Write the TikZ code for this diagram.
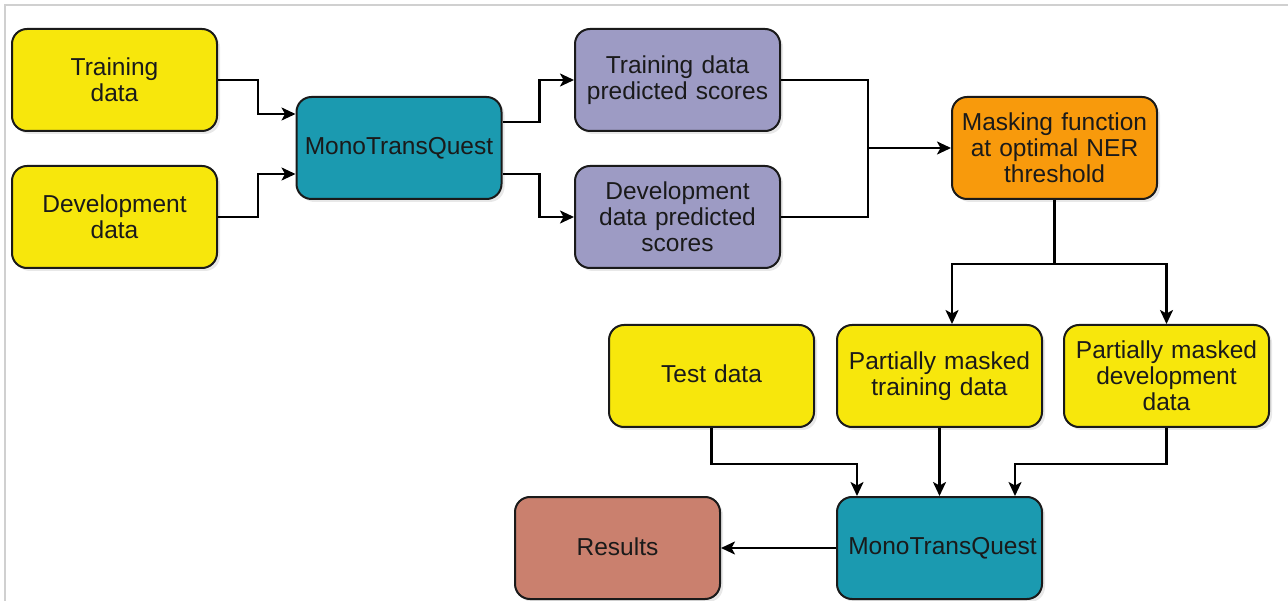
\documentclass[tikz,border=0pt]{standalone}
\usepackage{fontspec}
\setmainfont{Liberation Sans}
\usetikzlibrary{arrows.meta,shadows}
\definecolor{cyellow}{RGB}{247,231,12}
\definecolor{cteal}{RGB}{27,154,176}
\definecolor{clav}{RGB}{157,155,196}
\definecolor{corange}{RGB}{248,154,12}
\definecolor{cres}{RGB}{202,128,110}
\definecolor{cline}{RGB}{26,26,26}
\definecolor{cframe}{RGB}{208,208,208}
\begin{document}
\begin{tikzpicture}[x=1pt,y=-1pt,
  box/.style={draw=cline, line width=2pt, rounded corners=15pt,
    minimum width=205pt, minimum height=102pt, text width=199pt, inner sep=3pt,
    align=center, text=cline, font=\fontsize{24.5}{26}\selectfont,
    drop shadow={opacity=0.18, shadow xshift=3pt, shadow yshift=-3pt}},
  ybox/.style={box, fill=cyellow},
  tbox/.style={box, fill=cteal},
  lbox/.style={box, fill=clav},
  obox/.style={box, fill=corange},
  rbox/.style={box, fill=cres},
  conn/.style={draw=black, line width=2.2pt},
  arr/.style={conn, -{Stealth[length=14pt,width=13pt,inset=3.5pt]}}]
\useasboundingbox (0,0) rectangle (1288,601);
\fill[white] (0,0) rectangle (1288,601);
\draw[cframe, line width=2pt] (4.5,601) -- (4.5,5.5) -- (1288,5.5);

\node[ybox] (train) at (114.5,80) {Training\\data};
\node[ybox] (dev) at (114.5,217) {Development\\data};
\node[tbox] (mtq1) at (399,148) {MonoTransQuest};
\node[lbox] (tps) at (677.5,80) {Training data\\predicted scores};
\node[lbox] (dps) at (677.5,217) {Development\\data predicted\\scores};
\node[obox] (mask) at (1054.5,148) {Masking function\\at optimal NER\\threshold};
\node[ybox] (test) at (711.5,376) {\raisebox{4pt}{Test data}};
\node[ybox] (pmt) at (939.5,376) {Partially masked\\training data};
\node[ybox] (pmd) at (1166.5,376) {Partially masked\\development\\data};
\node[rbox] (results) at (617.5,548) {\raisebox{3pt}{Results}};
\node[tbox] (mtq2) at (939.5,548) {\hspace*{6pt}MonoTransQuest};

\draw[arr] (train.east) -- ++(40,0) |- ([yshift=34pt]mtq1.west);
\draw[arr] (dev.east) -- ++(40,0) |- ([yshift=-26pt]mtq1.west);
\draw[arr] ([yshift=26pt]mtq1.east) -- ++(37,0) |- (tps.west);
\draw[arr] ([yshift=-26pt]mtq1.east) -- ++(37,0) |- (dps.west);
\draw[conn] (tps.east) -- ++(87,0) coordinate (j1) -- (j1 |- dps.east) -- (dps.east);
\draw[arr] (j1 |- mask.west) -- (mask.west);
\draw[conn] (mask.south) -- ++(0,64) coordinate (j2);
\draw[arr] (j2) -| ([xshift=12.5pt]pmt.north);
\draw[arr] (j2) -| (pmd.north);
\draw[arr] (test.south) -- ++(0,36) -| ([xshift=-82.5pt]mtq2.north);
\draw[arr] (pmt.south) -- (pmt.south |- mtq2.north);
\draw[arr] (pmd.south) -- ++(0,36) -| ([xshift=75.5pt]mtq2.north);
\draw[arr] (mtq2.west) -- (results.east);
\end{tikzpicture}
\end{document}
